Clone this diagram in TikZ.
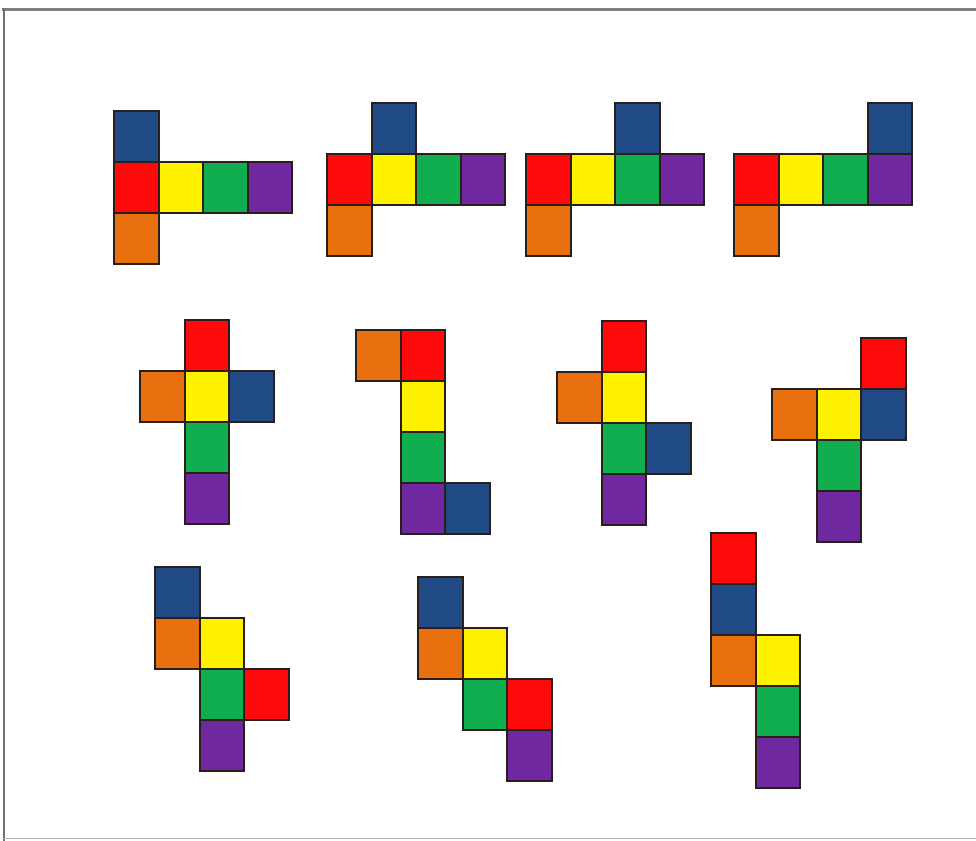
\documentclass[tikz,border=0pt]{standalone}
\usepackage{tikz}
\definecolor{cb}{HTML}{1F4A85}
\definecolor{cr}{HTML}{FF0A0A}
\definecolor{cy}{HTML}{FFF200}
\definecolor{cg}{HTML}{10AE4E}
\definecolor{cp}{HTML}{7028A0}
\definecolor{co}{HTML}{E8700E}
\definecolor{edge}{HTML}{2A1E1A}
\tikzset{cellline/.style={draw=edge,line width=1pt}}
\newcommand{\ox}{0}
\newcommand{\oy}{0}
\newcommand{\netsq}[3]{\filldraw[fill=#3,cellline] ({\ox+#1*44.5},{\oy+#2*51}) rectangle ++(44.5,51);}
\newcommand{\netat}[2]{\renewcommand{\ox}{#1}\renewcommand{\oy}{#2}}
\begin{document}
\begin{tikzpicture}[x=0.5pt,y=-0.5pt]
\useasboundingbox (0,0) rectangle (976,841);
\fill[white] (0,0) rectangle (976,841);
% frame
\draw[draw={rgb,255:red,128;green,128;blue,128},line width=1.5pt] (2,9) -- (976,9);
\draw[draw={rgb,255:red,112;green,112;blue,112},line width=1pt] (3.5,8) -- (3.5,841);
\draw[draw={rgb,255:red,176;green,176;blue,176},line width=0.8pt] (3,838.5) -- (976,838.5);
% net 1
\netat{114}{111}
\netsq{0}{0}{cb}\netsq{0}{1}{cr}\netsq{1}{1}{cy}\netsq{2}{1}{cg}\netsq{3}{1}{cp}\netsq{0}{2}{co}
% net 2
\netat{327}{103}
\netsq{1}{0}{cb}\netsq{0}{1}{cr}\netsq{1}{1}{cy}\netsq{2}{1}{cg}\netsq{3}{1}{cp}\netsq{0}{2}{co}
% net 3
\netat{526}{103}
\netsq{2}{0}{cb}\netsq{0}{1}{cr}\netsq{1}{1}{cy}\netsq{2}{1}{cg}\netsq{3}{1}{cp}\netsq{0}{2}{co}
% net 4
\netat{734}{103}
\netsq{3}{0}{cb}\netsq{0}{1}{cr}\netsq{1}{1}{cy}\netsq{2}{1}{cg}\netsq{3}{1}{cp}\netsq{0}{2}{co}
% net 5
\netat{140}{320}
\netsq{1}{0}{cr}\netsq{0}{1}{co}\netsq{1}{1}{cy}\netsq{2}{1}{cb}\netsq{1}{2}{cg}\netsq{1}{3}{cp}
% net 6
\netat{356}{330}
\netsq{0}{0}{co}\netsq{1}{0}{cr}\netsq{1}{1}{cy}\netsq{1}{2}{cg}\netsq{1}{3}{cp}\netsq{2}{3}{cb}
% net 7
\netat{557}{321}
\netsq{1}{0}{cr}\netsq{0}{1}{co}\netsq{1}{1}{cy}\netsq{1}{2}{cg}\netsq{2}{2}{cb}\netsq{1}{3}{cp}
% net 8
\netat{772}{338}
\netsq{2}{0}{cr}\netsq{0}{1}{co}\netsq{1}{1}{cy}\netsq{2}{1}{cb}\netsq{1}{2}{cg}\netsq{1}{3}{cp}
% net 9
\netat{155}{567}
\netsq{0}{0}{cb}\netsq{0}{1}{co}\netsq{1}{1}{cy}\netsq{1}{2}{cg}\netsq{2}{2}{cr}\netsq{1}{3}{cp}
% net 10
\netat{418}{577}
\netsq{0}{0}{cb}\netsq{0}{1}{co}\netsq{1}{1}{cy}\netsq{1}{2}{cg}\netsq{2}{2}{cr}\netsq{2}{3}{cp}
% net 11
\netat{711}{533}
\netsq{0}{0}{cr}\netsq{0}{1}{cb}\netsq{0}{2}{co}\netsq{1}{2}{cy}\netsq{1}{3}{cg}\netsq{1}{4}{cp}
\end{tikzpicture}
\end{document}
